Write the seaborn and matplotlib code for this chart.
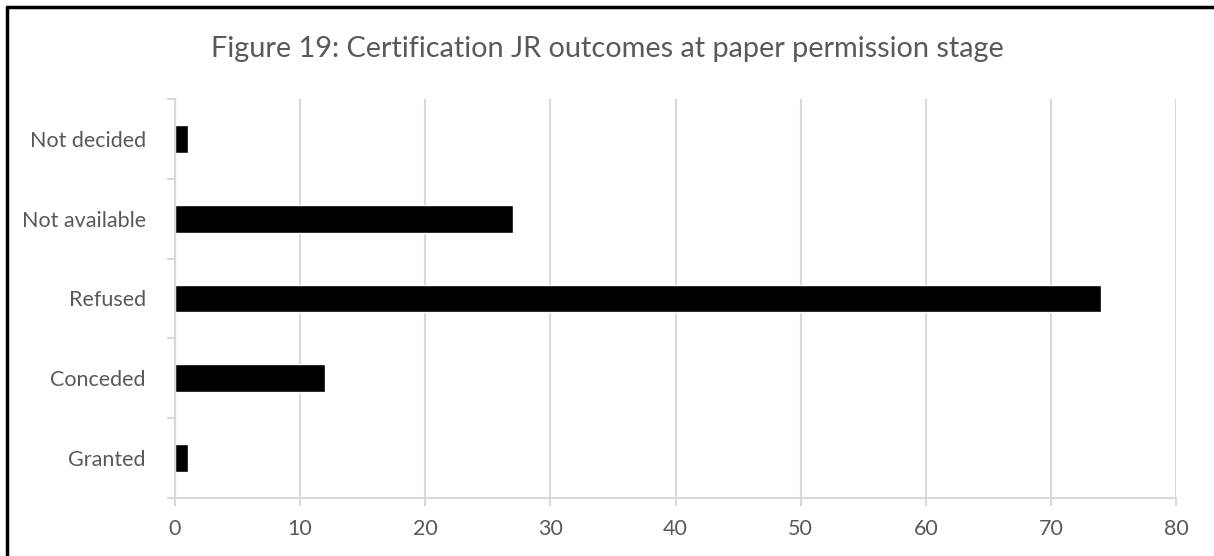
import numpy as np
import pandas as pd
import matplotlib
matplotlib.use('Agg')
import matplotlib.pyplot as plt
from matplotlib.lines import Line2D
from matplotlib.ticker import FixedLocator
import seaborn as sns

# data
outcomes = ['Not decided', 'Not available', 'Refused', 'Conceded', 'Granted']
counts = [1, 27, 74, 12, 1]
x_ticks = [0, 10, 20, 30, 40, 50, 60, 70, 80]
title = 'Figure 19: Certification JR outcomes at paper permission stage'

sns.set_theme(style='white')
plt.rcParams['font.family'] = ['Lato', 'DejaVu Sans']

text_grey = '#595959'
line_grey = '#d9d9d9'

df = pd.DataFrame({'outcome': outcomes, 'count': counts})

fig = plt.figure(figsize=(12.14, 5.56), dpi=100)
ax = fig.add_axes([175 / 1214, 1 - 498 / 556, (1176 - 175) / 1214, (498 - 99) / 556])

sns.barplot(data=df, x='count', y='outcome', order=outcomes, color='black',
            width=0.35, orient='h', ax=ax, saturation=1)

ax.set_xlim(0, 80)
ax.set_ylim(len(outcomes) - 0.5, -0.5)
ax.set_xticks(x_ticks)
ax.xaxis.grid(True, color=line_grey, linewidth=1.5)
ax.set_axisbelow(True)
ax.set_xlabel('')
ax.set_ylabel('')

for side in ['top', 'right']:
    ax.spines[side].set_visible(False)
for side in ['left', 'bottom']:
    ax.spines[side].set_color(line_grey)
    ax.spines[side].set_linewidth(1.5)

# y tick marks sit between categories, labels at the centres
ax.yaxis.set_minor_locator(FixedLocator(np.arange(-0.5, len(outcomes), 1)))
ax.tick_params(axis='y', which='minor', length=6, width=1.5, color=line_grey, left=True)
ax.tick_params(axis='y', which='major', length=0, pad=21, labelsize=15.5, labelcolor=text_grey)
ax.tick_params(axis='x', which='major', length=6, width=1.5, color=line_grey, bottom=True,
               pad=9, labelsize=15.5, labelcolor=text_grey)

fig.suptitle(title, x=0.5, y=1 - 49 / 556, va='center', fontsize=20.8, color=text_grey)

# chart frame (only top and left edges are inside the image)
fig.add_artist(Line2D([7 / 1214, 7 / 1214], [0, 1 - 7 / 556], transform=fig.transFigure,
                      color='black', linewidth=2.5))
fig.add_artist(Line2D([7 / 1214, 1], [1 - 7 / 556, 1 - 7 / 556], transform=fig.transFigure,
                      color='black', linewidth=2.5))

plt.savefig('out.png', dpi=100)
